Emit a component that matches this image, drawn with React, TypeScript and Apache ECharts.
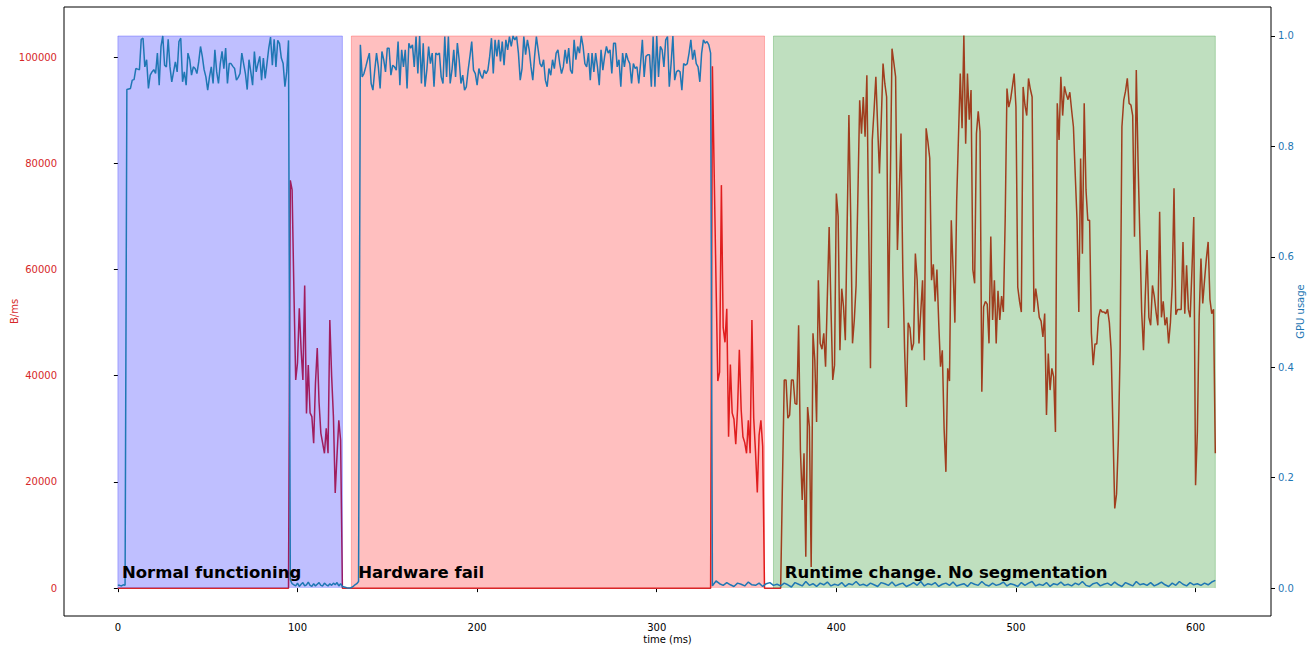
import React, { useEffect, useRef } from "react";
import * as echarts from "echarts";

const TAB_RED = "#d62728";
const TAB_BLUE = "#1f77b4";

const timeTicks = [0, 100, 200, 300, 400, 500, 600];
const bytesTicks = [0, 20000, 40000, 60000, 80000, 100000];
const gpuTicks = [0, 0.2, 0.4, 0.6, 0.8, 1.0];

const regionNames = ["Normal functioning", "Hardware fail", "Runtime change. No segmentation"];
const regionStart = [0, 130, 365];
const regionEnd = [125, 360, 611];
const regionColors = ["rgba(0,0,255,0.25)", "rgba(255,0,0,0.25)", "rgba(0,128,0,0.25)"];
const regionTop = 1.0;
const labelTime = [2, 133.5, 371];
const labelBytes = [3000, 3000, 3000];

// GPU usage (right axis), 1 ms samples unless a step is given
const gpuNormalStart = 0;
const gpuNormal = [
  0.005, 0.005, 0.004, 0.006, 0.005,
  0.903, 0.904, 0.905, 0.920, 0.921, 0.941, 0.940, 0.939, 0.994, 0.996,
  0.944, 0.957, 0.905, 0.929, 0.935, 0.939, 0.932, 0.969, 0.911, 0.981,
  1.0, 0.947, 0.944, 0.994, 0.944, 0.917, 0.935, 0.953, 0.935, 0.990,
  0.996, 0.917, 0.935, 0.911, 0.969, 0.957, 0.929, 0.944, 0.941, 0.932,
  0.953, 0.981, 0.963, 0.939, 0.926, 0.902, 0.926, 0.944, 0.914, 0.975,
  0.935, 0.914, 0.950, 0.972, 0.941, 0.978, 0.914, 0.950, 0.950, 0.945,
  0.941, 0.920, 0.925, 0.932, 0.969, 0.950, 0.932, 0.903, 0.957, 0.935,
  0.911, 0.972, 0.935, 0.950, 0.963, 0.920, 0.960, 0.923, 0.950, 0.978,
  0.998, 0.947, 0.994, 0.944, 0.992, 0.986, 0.960, 0.950, 0.908, 0.935, 0.992,
];
const gpuIdleAStart = 96;
const gpuIdleA = [
  0.015, 0.008, 0.006, 0.004, 0.009, 0.003, 0.007, 0.010, 0.004, 0.006,
  0.011, 0.005, 0.003, 0.008, 0.004, 0.007, 0.010, 0.005, 0.004, 0.009,
  0.006, 0.004, 0.008, 0.005, 0.009, 0.006, 0.010, 0.004, 0.008, 0.003,
  0.002, 0.001, 0.000, 0.000, 0.001, 0.003, 0.006, 0.008, 0.012,
];
const gpuFailStart = 135;
const gpuFail = [
  0.984, 0.926, 0.932, 0.944, 0.957, 0.969, 0.914, 0.902, 0.938, 0.969,
  0.944, 0.905, 0.972, 0.957, 0.935, 0.978, 0.978, 0.929, 0.947, 0.944,
  0.938, 0.990, 0.911, 0.975, 0.944, 0.975, 0.905, 0.987, 0.978, 0.984,
  0.944, 0.999, 0.932, 1.0, 0.914, 0.987, 0.908, 0.938, 0.981, 0.950,
  0.969, 0.908, 0.969, 0.966, 0.969, 0.926, 0.914, 0.999, 0.926, 0.999,
  0.914, 0.938, 0.975, 0.926, 0.987, 0.957, 0.914, 0.929, 0.902, 0.908,
  0.938, 0.963, 0.990, 0.938, 0.932, 0.911, 0.941, 0.929, 0.923, 0.938,
  0.932, 0.938, 0.963, 0.996, 0.932, 0.993, 0.963, 0.993, 0.954, 0.990,
  0.947, 0.993, 0.975, 0.999, 0.981, 1.0, 0.993, 0.999, 0.969, 0.920,
  0.941, 0.999, 0.966, 0.993, 0.975, 0.944, 0.920, 0.963, 0.999, 0.975,
  0.950, 0.944, 0.957, 0.920, 0.908, 0.941, 0.929, 0.957, 0.941, 0.969,
  0.975, 0.950, 0.932, 0.944, 0.975, 0.950, 0.978, 0.938, 0.932, 0.993,
  0.957, 0.981, 0.969, 1.0, 0.981, 0.950, 0.944, 0.969, 0.920, 0.969,
  0.935, 0.969, 0.944, 0.911, 0.975, 0.938, 0.963, 0.981, 0.969, 0.975,
  0.932, 0.987, 0.987, 0.944, 0.957, 0.908, 0.969, 0.944, 0.969, 0.957,
  0.950, 0.914, 0.950, 0.941, 0.944, 0.914, 0.950, 0.993, 0.926, 0.963,
  0.966, 0.966, 0.908, 0.999, 0.908, 1.0, 0.926, 0.981, 0.975, 0.944,
  0.993, 0.999, 0.908, 0.950, 1.0, 0.920, 0.935, 0.938, 0.935, 0.902,
  0.950, 0.947, 0.950, 0.969, 0.993, 0.957, 0.975, 0.950, 0.944, 0.917,
  0.969, 0.993, 0.987, 0.990, 0.984, 0.969,
];
const gpuIdleBStart = 331;
const gpuIdleBStep = 2;
const gpuIdleB = [
  0.004, 0.013, 0.008, 0.005, 0.010, 0.006, 0.003, 0.009, 0.007, 0.004, 0.011, 0.006, 0.005, 0.009, 0.003, 0.008, 0.010, 0.005, 0.007, 0.004,
  0.009, 0.006, 0.002, 0.010, 0.007, 0.004, 0.012, 0.005, 0.008, 0.003, 0.009, 0.006, 0.011, 0.004, 0.007, 0.005, 0.010, 0.003, 0.008, 0.006,
  0.012, 0.005, 0.007, 0.004, 0.009, 0.006, 0.003, 0.010, 0.008, 0.005, 0.011, 0.004, 0.007, 0.009, 0.003, 0.006, 0.010, 0.005, 0.012, 0.004,
  0.008, 0.006, 0.010, 0.003, 0.007, 0.009, 0.005, 0.011, 0.004, 0.006, 0.008, 0.003, 0.010, 0.007, 0.005, 0.012, 0.006, 0.004, 0.009, 0.005,
  0.007, 0.011, 0.004, 0.008, 0.006, 0.003, 0.010, 0.005, 0.009, 0.012, 0.004, 0.007, 0.005, 0.010, 0.003, 0.008, 0.006, 0.011, 0.005, 0.007,
  0.004, 0.009, 0.006, 0.012, 0.005, 0.003, 0.008, 0.010, 0.004, 0.007, 0.009, 0.005, 0.011, 0.006, 0.003, 0.010, 0.007, 0.004, 0.012, 0.006,
  0.008, 0.005, 0.010, 0.004, 0.007, 0.011, 0.006, 0.003, 0.009, 0.005, 0.012, 0.007, 0.004, 0.010, 0.006, 0.008, 0.005, 0.009, 0.006, 0.011,
  0.014,
];

// Throughput B/ms (left axis), 1 ms samples; zero between segments
const bytesIdleStart = 0;
const bytesNormalStart = 94;
const bytesNormal = [
  0, 0, 76800, 75000, 56000, 39200, 42400, 52700, 45000, 39200,
  57000, 32900, 42000, 33000, 32300, 27300, 38600, 45200, 35000, 29200,
  27300, 25400, 30100, 25400, 50500, 40000, 32300, 17900, 25000, 31600,
  27900, 0,
];
const bytesFailStart = 330;
const bytesFail = [
  0, 98300, 78000, 58000, 39000, 40700, 75900, 49100, 46300, 52600,
  28500, 42100, 33000, 31800, 27100, 33700, 44900, 33700, 28500, 27400,
  25400, 31600, 25400, 50500, 32000, 25700, 18000, 28800, 31600, 26700,
  0,
];
const bytesRuntimeStart = 369;
const bytesRuntime = [
  0, 20000, 39200, 39200, 32000, 32600, 39200, 39200, 34800, 34600,
  49500, 26000, 16600, 25400, 5900, 34100, 30400, 4000, 48000, 43000,
  31300, 58000, 46100, 45000, 48000, 41700, 55000, 68000, 53000, 39200,
  42000, 74300, 70000, 44800, 56400, 53000, 46700, 68000, 89100, 70000,
  46100, 50500, 57000, 74000, 91900, 85600, 92500, 85000, 96600, 68000,
  41400, 84400, 90000, 96300, 87000, 78100, 88000, 98800, 95000, 92500,
  49000, 75000, 101600, 99000, 96300, 63700, 74000, 85600, 60000, 45000,
  34100, 50000, 49000, 44800, 46100, 63000, 58000, 46100, 52000, 58000,
  42900, 86600, 84000, 81000, 58000, 61000, 54000, 60000, 50000, 41700,
  44800, 30000, 21900, 41400, 39000, 69300, 60000, 50000, 73000, 85000,
  96900, 86600, 104100, 83700, 96900, 88200, 93800, 60000, 57400, 85600,
  89800, 86000, 37000, 53000, 54000, 53500, 46100, 66200, 50500, 58000,
  46100, 56000, 50500, 55000, 52000, 69300, 94100, 90600, 92000, 94400,
  96900, 90600, 56700, 54000, 52000, 94400, 91000, 89000, 96000, 94000,
  92500, 52000, 56400, 54000, 51000, 50300, 47300, 51700, 32600, 44200,
  37300, 41400, 39800, 29400, 91300, 84400, 96300, 89000, 94500, 93000,
  92000, 93400, 90000, 86900, 78000, 69300, 52000, 80900, 63000, 91300,
  75000, 69300, 69300, 48000, 42000, 46000, 46000, 51000, 52500, 52000,
  52000, 51700, 52500, 50000, 44800, 30000, 15000, 17700, 27800, 44800,
  86900, 91900, 93600, 96000, 91300, 91000, 89000, 66200, 97600, 80000,
  66200, 52000, 44800, 55000, 63700, 51000, 49500, 57000, 55000, 52000,
  49500, 70900, 51000, 54000, 49500, 51000, 46100, 50000, 57000, 75300,
  51500, 52500, 52500, 52500, 65200, 51700, 60800, 52500, 51000, 60000,
  69900, 19400, 29400, 51000, 62100, 53600, 58000, 62000, 65200, 54400,
  51700, 52500, 25400,
];

function seg(start: number, vals: number[], step = 1): number[][] {
  return vals.map((v, i) => [start + i * step, v]);
}

const FONT = "DejaVu Sans";

export default function App() {
  const ref = useRef<HTMLDivElement>(null);
  useEffect(() => {
    if (!ref.current) return;
    const chart = echarts.init(ref.current, undefined, { renderer: "svg" });

    const gpuData = [
      ...seg(gpuNormalStart, gpuNormal),
      ...seg(gpuIdleAStart, gpuIdleA),
      ...seg(gpuFailStart, gpuFail),
      ...seg(gpuIdleBStart, gpuIdleB, gpuIdleBStep),
    ];
    const bytesData = [
      [bytesIdleStart, 0],
      ...seg(bytesNormalStart, bytesNormal),
      ...seg(bytesFailStart, bytesFail),
      ...seg(bytesRuntimeStart, bytesRuntime),
    ];

    const regionSeries = regionNames.map((name, i) => ({
      name: "region-" + i,
      type: "line",
      xAxisIndex: 0,
      yAxisIndex: 1,
      data: [
        [regionStart[i], 0],
        [regionStart[i], regionTop],
        [regionEnd[i], regionTop],
        [regionEnd[i], 0],
      ],
      showSymbol: false,
      symbol: "none",
      silent: true,
      lineStyle: { color: regionColors[i], width: 1 },
      areaStyle: { color: regionColors[i], opacity: 1, origin: 0 },
      z: 3,
    }));

    const axisTickStyle = { color: "#000", width: 1 };

    chart.setOption({
      animation: false,
      backgroundColor: "#fff",
      textStyle: { fontFamily: FONT },
      grid: {
        left: 64,
        right: 40,
        top: 7,
        bottom: 32,
        containLabel: false,
        outerBoundsMode: "none",
        show: true,
        borderColor: "#000",
        borderWidth: 1,
        backgroundColor: "transparent",
      },
      xAxis: {
        type: "value",
        min: -30,
        max: 642,
        name: "time (ms)",
        nameLocation: "middle",
        nameGap: 18,
        nameMoveOverlap: false,
        nameTextStyle: { color: "#000", fontSize: 10, fontFamily: FONT },
        axisLine: { show: false },
        axisTick: { show: true, length: 4, customValues: timeTicks, lineStyle: axisTickStyle },
        axisLabel: {
          customValues: timeTicks,
          color: "#000",
          fontSize: 10,
          margin: 6,
          fontFamily: FONT,
          formatter: (v: number) => String(v),
        },
        splitLine: { show: false },
      },
      yAxis: [
        {
          type: "value",
          position: "left",
          min: -5250,
          max: 109450,
          name: "B/ms",
          nameLocation: "middle",
          nameGap: 45,
          nameMoveOverlap: false,
          nameRotate: 90,
          nameTextStyle: { color: TAB_RED, fontSize: 10, fontFamily: FONT },
          axisLine: { show: false },
          axisTick: { show: true, length: 4, customValues: bytesTicks, lineStyle: axisTickStyle },
          axisLabel: {
            customValues: bytesTicks,
            color: TAB_RED,
            fontSize: 10,
            margin: 7,
            fontFamily: FONT,
            formatter: (v: number) => String(v),
          },
          splitLine: { show: false },
        },
        {
          type: "value",
          position: "right",
          min: -0.0505,
          max: 1.0525,
          name: "GPU usage",
          nameLocation: "middle",
          nameGap: 24,
          nameMoveOverlap: false,
          nameRotate: 90,
          nameTextStyle: { color: TAB_BLUE, fontSize: 10, fontFamily: FONT },
          axisLine: { show: false },
          axisTick: { show: true, length: 4, customValues: gpuTicks, lineStyle: axisTickStyle },
          axisLabel: {
            customValues: gpuTicks,
            color: TAB_BLUE,
            fontSize: 10,
            margin: 7,
            fontFamily: FONT,
            formatter: (v: number) => v.toFixed(1),
          },
          splitLine: { show: false },
        },
      ],
      series: [
        {
          name: "B/ms",
          type: "line",
          xAxisIndex: 0,
          yAxisIndex: 0,
          data: bytesData,
          showSymbol: false,
          symbol: "none",
          lineStyle: { color: TAB_RED, width: 1.5 },
          z: 2,
        },
        ...regionSeries,
        {
          name: "GPU usage",
          type: "line",
          xAxisIndex: 0,
          yAxisIndex: 1,
          data: gpuData,
          showSymbol: false,
          symbol: "none",
          lineStyle: { color: TAB_BLUE, width: 1.5 },
          z: 4,
        },
        {
          name: "labels",
          type: "scatter",
          xAxisIndex: 0,
          yAxisIndex: 0,
          symbolSize: 1,
          itemStyle: { color: "rgba(0,0,0,0)" },
          silent: true,
          data: regionNames.map((n, i) => ({ name: n, value: [labelTime[i], labelBytes[i]] })),
          label: {
            show: true,
            formatter: "{b}",
            position: "right",
            distance: 0,
            color: "#000",
            opacity: 1,
            textBorderWidth: 0,
            fontSize: 16.5,
            fontWeight: "bold",
            fontFamily: FONT,
          },
          labelLayout: { hideOverlap: false },
          z: 5,
        },
      ],
    });

    return () => {
      chart.dispose();
    };
  }, []);

  return (
    <div
      ref={ref}
      style={{ position: "fixed", left: 0, top: 0, width: 1311, height: 648, background: "#fff" }}
    />
  );
}
